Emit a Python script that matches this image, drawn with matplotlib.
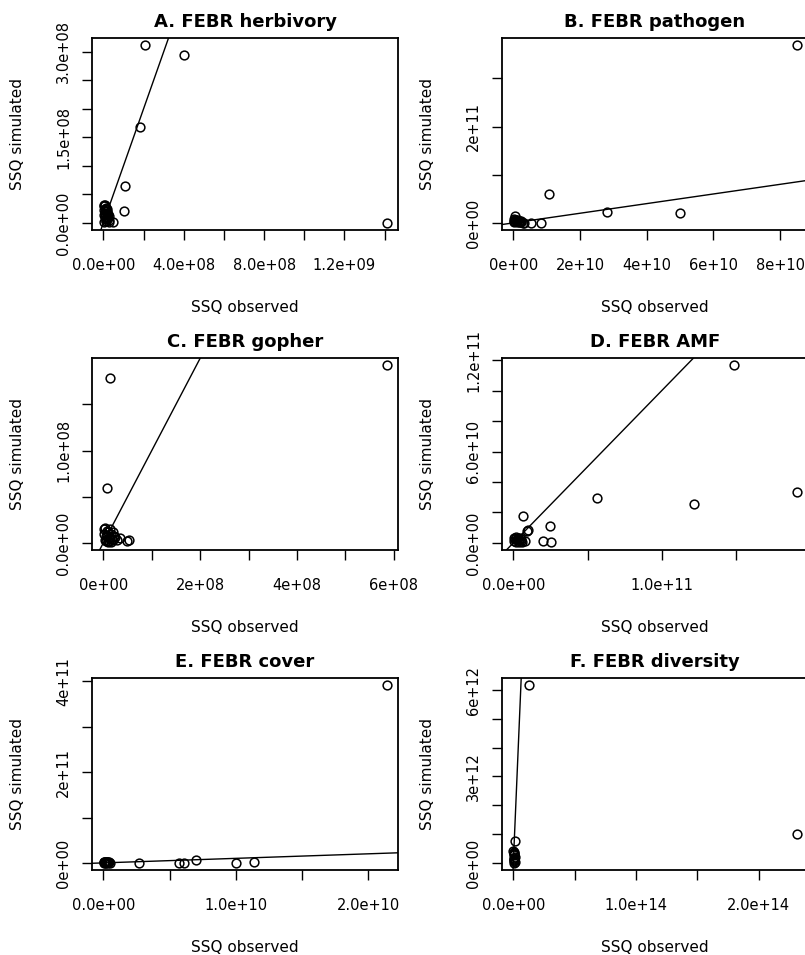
import matplotlib
matplotlib.use("Agg")
import matplotlib.pyplot as plt
from matplotlib.ticker import FixedLocator, FixedFormatter

plt.rcParams['font.family'] = ['DejaVu Sans']

# ---------------- data ----------------
titles = ["A. FEBR herbivory", "B. FEBR pathogen", "C. FEBR gopher",
          "D. FEBR AMF", "E. FEBR cover", "F. FEBR diversity"]

obs_A = [2.08e8, 4.0e8, 1.83e8, 1.08e8, 1.03e8, 1.41e9, 5.0e7,
         0.1e7, 0.4e7, 0.8e7, 1.2e7, 1.6e7, 2.0e7, 2.4e7, 2.8e7,
         0.2e7, 0.6e7, 1.0e7, 1.4e7, 1.8e7, 2.2e7, 2.6e7, 3.0e7,
         0.3e7, 0.7e7, 1.1e7, 1.5e7, 1.9e7, 0.5e7, 0.9e7, 1.3e7]
sim_A = [3.12e8, 2.95e8, 1.69e8, 6.4e7, 2.1e7, 0.0, 0.2e7,
         3.1e7, 2.9e7, 3.2e7, 2.7e7, 2.4e7, 2.0e7, 1.6e7, 1.2e7,
         2.2e7, 2.5e7, 1.8e7, 2.1e7, 1.3e7, 0.9e7, 0.5e7, 0.2e7,
         1.4e7, 1.0e7, 0.6e7, 0.3e7, 0.8e7, 0.1e7, 1.6e7, 0.4e7]

obs_B = [8.5e10, 1.08e10, 2.82e10, 5.0e10, 8.3e9, 5.4e9, 0.5e9,
         0.1e9, 0.4e9, 0.8e9, 1.2e9, 1.6e9, 2.0e9, 2.4e9, 2.8e9, 3.2e9,
         0.2e9, 0.6e9, 1.0e9, 1.4e9, 1.8e9, 2.2e9, 0.3e9]
sim_B = [3.69e11, 5.96e10, 2.2e10, 1.99e10, 0.0, 0.0, 1.4e10,
         9e9, 7e9, 5e9, 4e9, 3e9, 2e9, 1e9, 0.5e9, 0.2e9,
         3e9, 6e9, 2e9, 5e9, 1.5e9, 3.5e9, 1e9]

obs_C = [5.85e8, 1.38e7, 0.7e7, 5.2e7, 3.5e7, 4.8e7,
         0.1e7, 0.4e7, 0.7e7, 1.0e7, 1.3e7, 1.6e7, 1.9e7, 2.2e7,
         0.2e7, 0.5e7, 0.8e7, 1.1e7, 1.4e7, 1.7e7, 2.0e7,
         0.3e7, 0.6e7, 0.9e7, 1.2e7, 1.5e7, 2.5e7, 2.8e7]
sim_C = [1.925e8, 1.79e8, 5.96e7, 0.3e7, 0.5e7, 0.25e7,
         1.5e7, 1.6e7, 1.3e7, 1.2e7, 1.5e7, 1.0e7, 1.2e7, 0.8e7,
         1.0e7, 0.7e7, 0.9e7, 0.5e7, 0.6e7, 0.4e7, 0.3e7,
         0.3e7, 0.2e7, 0.1e7, 0.2e7, 0.05e7, 0.6e7, 0.3e7]

obs_D = [1.91e11, 1.486e11, 1.216e11, 5.63e10, 2.5e10, 2.0e10, 2.55e10, 6.8e9, 1.0e10, 9.0e9, 7.9e9,
         0.3e9, 1.0e9, 2.0e9, 3.0e9, 4.0e9, 5.0e9, 6.0e9,
         0.6e9, 1.5e9, 2.5e9, 3.5e9, 4.5e9, 5.5e9]
sim_D = [3.34e10, 1.168e11, 2.58e10, 2.93e10, 1.13e10, 1.5e9, 0.4e9, 1.78e10, 8.7e9, 7.5e9, 1.5e9,
         3.5e9, 2.5e9, 4.0e9, 3.0e9, 2.0e9, 1.5e9, 0.8e9,
         1.0e9, 0.3e9, 1.8e9, 0.5e9, 3.0e9, 2.5e9]

obs_E = [2.14e10, 2.66e9, 5.75e9, 6.13e9, 7.0e9, 1.0e10, 1.14e10,
         0.02e9, 0.08e9, 0.14e9, 0.2e9, 0.26e9, 0.32e9, 0.38e9, 0.44e9, 0.5e9,
         0.05e9, 0.11e9, 0.17e9, 0.23e9, 0.29e9]
sim_E = [3.92e11, 0.5e9, 0.3e9, 0.2e9, 5.8e9, 0.3e9, 2.0e9,
         1.0e9, 2.0e9, 0.5e9, 3.0e9, 1.5e9, 2.5e9, 0.8e9, 1.2e9, 0.3e9,
         0.2e9, 2.2e9, 1.8e9, 0.6e9, 2.8e9]

obs_F = [2.31e14, 1.31e13, 1.0e12,
         0.1e12, 0.3e12, 0.5e12, 0.7e12, 0.9e12, 1.1e12,
         0.2e12, 0.4e12, 0.6e12, 0.8e12, 1.0e12, 0.15e12]
sim_F = [1.0e12, 6.17e12, 7.7e11,
         4.2e11, 3.8e11, 3.4e11, 3.0e11, 2.6e11, 2.2e11,
         1.8e11, 1.4e11, 1.0e11, 0.6e11, 0.3e11, 0.05e11]

# tick positions and labels (R pretty; overlapping labels omitted)
xt_A = [0, 2e8, 4e8, 6e8, 8e8, 1.0e9, 1.2e9, 1.4e9]
xl_A = ["0.0e+00", "", "4.0e+08", "", "8.0e+08", "", "1.2e+09", ""]
yt_A = [0, 5e7, 1e8, 1.5e8, 2e8, 2.5e8, 3e8]
yl_A = ["0.0e+00", "", "", "1.5e+08", "", "", "3.0e+08"]

xt_B = [0, 2e10, 4e10, 6e10, 8e10]
xl_B = ["0e+00", "2e+10", "4e+10", "6e+10", "8e+10"]
yt_B = [0, 1e11, 2e11, 3e11]
yl_B = ["0e+00", "", "2e+11", ""]

xt_C = [0, 1e8, 2e8, 3e8, 4e8, 5e8, 6e8]
xl_C = ["0e+00", "", "2e+08", "", "4e+08", "", "6e+08"]
yt_C = [0, 5e7, 1e8, 1.5e8]
yl_C = ["0.0e+00", "", "1.0e+08", ""]

xt_D = [0, 5e10, 1e11, 1.5e11]
xl_D = ["0.0e+00", "", "1.0e+11", ""]
yt_D = [0, 2e10, 4e10, 6e10, 8e10, 1e11, 1.2e11]
yl_D = ["0.0e+00", "", "", "6.0e+10", "", "", "1.2e+11"]

xt_E = [0, 5e9, 1e10, 1.5e10, 2e10]
xl_E = ["0.0e+00", "", "1.0e+10", "", "2.0e+10"]
yt_E = [0, 1e11, 2e11, 3e11, 4e11]
yl_E = ["0e+00", "", "2e+11", "", "4e+11"]

xt_F = [0, 5e13, 1e14, 1.5e14, 2e14]
xl_F = ["0.0e+00", "", "1.0e+14", "", "2.0e+14"]
yt_F = [0, 1e12, 2e12, 3e12, 4e12, 5e12, 6e12]
yl_F = ["0e+00", "", "", "3e+12", "", "", "6e+12"]

panels = [
    (obs_A, sim_A, xt_A, xl_A, yt_A, yl_A),
    (obs_B, sim_B, xt_B, xl_B, yt_B, yl_B),
    (obs_C, sim_C, xt_C, xl_C, yt_C, yl_C),
    (obs_D, sim_D, xt_D, xl_D, yt_D, yl_D),
    (obs_E, sim_E, xt_E, xl_E, yt_E, yl_E),
    (obs_F, sim_F, xt_F, xl_F, yt_F, yl_F),
]

# ---------------- layout ----------------
W, H = 805, 955
fig = plt.figure(figsize=(W / 100, H / 100), dpi=100)
col_left = [92, 502]
row_top = [38, 358, 678]
aw, ah = 306, 192

for i, (obs, sim, xt, xl, yt, yl) in enumerate(panels):
    r, c = divmod(i, 2)
    left = col_left[c] / W
    bottom = 1 - (row_top[r] + ah) / H
    ax = fig.add_axes([left, bottom, aw / W, ah / H])
    ax.plot(obs, sim, linestyle='none', marker='o', markersize=6.3,
            markerfacecolor='none', markeredgecolor='black', markeredgewidth=1.1)
    ax.margins(0.04)
    ax.axline((0, 0), slope=1, color='black', linewidth=1.0)

    ax.xaxis.set_major_locator(FixedLocator(xt))
    ax.xaxis.set_major_formatter(FixedFormatter(xl))
    ax.yaxis.set_major_locator(FixedLocator(yt))
    ax.yaxis.set_major_formatter(FixedFormatter(yl))
    ax.tick_params(axis='both', direction='out', length=7, width=1.0,
                   labelsize=10.5, colors='black')
    ax.tick_params(axis='x', pad=13)
    ax.tick_params(axis='y', pad=8)
    for lab in ax.get_yticklabels():
        lab.set_rotation(90)
        lab.set_va('center')
    for sp in ax.spines.values():
        sp.set_linewidth(1.3)

    ax.set_title(titles[i], fontsize=13, fontweight='bold', pad=8)
    ax.set_xlabel("SSQ observed", fontsize=11, va='center')
    ax.xaxis.set_label_coords(0.5, -77 / ah)
    ax.set_ylabel("SSQ simulated", fontsize=11, va='center')
    ax.yaxis.set_label_coords(-74 / aw, 0.5)

fig.savefig("out.png", dpi=100)
